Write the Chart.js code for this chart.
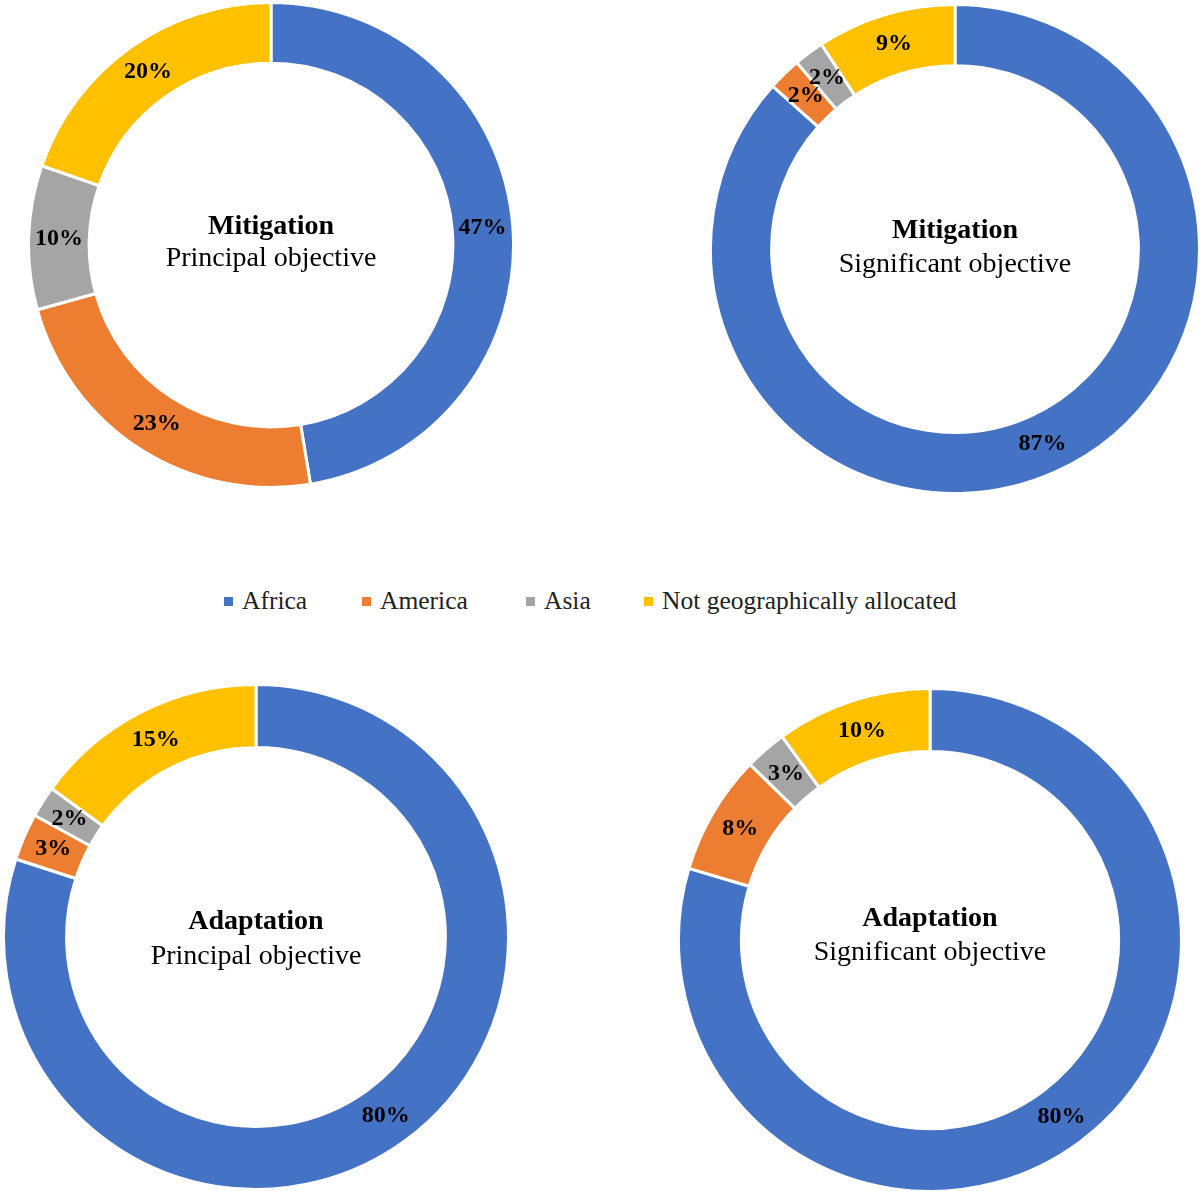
<!DOCTYPE html>
<html>
<head>
<meta charset="utf-8">
<script src="https://cdn.jsdelivr.net/npm/chart.js@4/dist/chart.umd.min.js"></script>
<style>
  html, body { margin: 0; padding: 0; background: #fff; }
  #wrap { position: relative; width: 1200px; height: 1191px; overflow: hidden; }
  .box { position: absolute; }
  #legend { position: absolute; left: 0; top: 586px; width: 1200px; height: 30px;
            font-family: "Liberation Serif", "Times New Roman", serif; font-size: 25.5px; color: #222; }
  .item { position: absolute; top: 0; white-space: nowrap; line-height: 30px; }
  .sw { display: inline-block; width: 9px; height: 9px; margin-right: 9px; vertical-align: middle; position: relative; top: -2px; }
</style>
</head>
<body>
<div id="wrap">
  <div id="legend"></div>
</div>
<script>
// ---- data ----
const categories = ['Africa', 'America', 'Asia', 'Not geographically allocated'];
const colors = ['#4472C4', '#ED7D31', '#A5A5A5', '#FFC000'];
const titles = ['Mitigation', 'Mitigation', 'Adaptation', 'Adaptation'];
const subtitles = ['Principal objective', 'Significant objective', 'Principal objective', 'Significant objective'];
const mitigationPrincipal = [47.4, 23.3, 9.6, 19.7];
const mitigationSignificant = [86.6, 2.2, 2.0, 9.2];
const adaptationPrincipal = [80.0, 3.0, 2.0, 15.0];
const adaptationSignificant = [79.6, 7.7, 2.7, 10.0];
const seriesList = [mitigationPrincipal, mitigationSignificant, adaptationPrincipal, adaptationSignificant];

// ---- layout (center x, center y, radius) ----
const layout = [
  {cx: 271, cy: 245, r: 241, t1: -18, t2: 14},
  {cx: 955, cy: 249, r: 243, t1: -18, t2: 16},
  {cx: 256, cy: 937, r: 251, t1: -15, t2: 20},
  {cx: 930, cy: 940, r: 250, t1: -21, t2: 13}
];
const BW = 3;

const labelPlugin = {
  id: 'sliceLabels',
  afterDatasetsDraw(chart) {
    const ctx = chart.ctx;
    const meta = chart.getDatasetMeta(0);
    const data = chart.data.datasets[0].data;
    ctx.save();
    ctx.font = 'bold 24px "Liberation Serif", "Times New Roman", serif';
    ctx.fillStyle = '#000';
    ctx.textAlign = 'center';
    ctx.textBaseline = 'middle';
    meta.data.forEach((arc, i) => {
      const p = arc.tooltipPosition();
      ctx.fillText(Math.round(data[i]) + '%', p.x, p.y);
    });
    ctx.restore();
  }
};

const centerPlugin = {
  id: 'centerText',
  afterDraw(chart, args, opts) {
    const ctx = chart.ctx;
    const arc = chart.getDatasetMeta(0).data[0];
    const x = arc.x, y = arc.y;
    ctx.save();
    ctx.fillStyle = '#000';
    ctx.textAlign = 'center';
    ctx.textBaseline = 'middle';
    ctx.font = 'bold 28px "Liberation Serif", "Times New Roman", serif';
    ctx.fillText(opts.title, x, y + opts.t1);
    ctx.font = '28px "Liberation Serif", "Times New Roman", serif';
    ctx.fillText(opts.subtitle, x, y + opts.t2);
    ctx.restore();
  }
};

const wrap = document.getElementById('wrap');
seriesList.forEach((values, k) => {
  const L = layout[k];
  const S = 2 * L.r + 2 * BW;
  const div = document.createElement('div');
  div.className = 'box';
  div.style.left = (L.cx - S / 2) + 'px';
  div.style.top = (L.cy - S / 2) + 'px';
  div.style.width = S + 'px';
  div.style.height = S + 'px';
  const cv = document.createElement('canvas');
  cv.width = S; cv.height = S;
  cv.style.width = S + 'px'; cv.style.height = S + 'px';
  div.appendChild(cv);
  wrap.appendChild(div);
  new Chart(cv, {
    type: 'doughnut',
    data: {
      labels: categories,
      datasets: [{
        data: values,
        backgroundColor: colors,
        borderColor: '#ffffff',
        borderWidth: BW,
        hoverOffset: 0
      }]
    },
    options: {
      responsive: false,
      animation: false,
      cutout: '75%',
      layout: { padding: 0 },
      plugins: {
        legend: { display: false },
        tooltip: { enabled: false },
        centerText: { title: titles[k], subtitle: subtitles[k], t1: L.t1, t2: L.t2 }
      }
    },
    plugins: [labelPlugin, centerPlugin]
  });
});

// ---- legend ----
const legendX = [224, 362, 526, 644];
const legend = document.getElementById('legend');
categories.forEach((c, i) => {
  const it = document.createElement('div');
  it.className = 'item';
  it.style.left = legendX[i] + 'px';
  const sw = document.createElement('span');
  sw.className = 'sw';
  sw.style.background = colors[i];
  it.appendChild(sw);
  it.appendChild(document.createTextNode(c));
  legend.appendChild(it);
});
</script>
</body>
</html>
